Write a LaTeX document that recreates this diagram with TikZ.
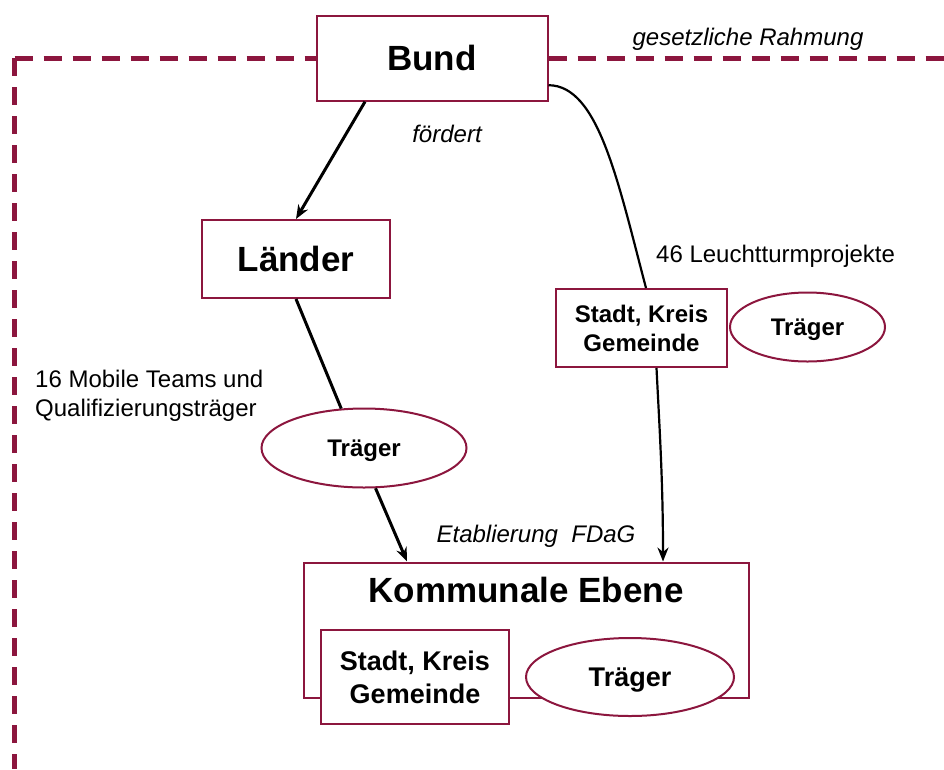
\documentclass[tikz,border=0pt]{standalone}
\usepackage{fontspec}
\setmainfont{Liberation Sans}
\usetikzlibrary{shapes.geometric,arrows.meta}

\definecolor{weinrot}{RGB}{140,22,62}

\tikzset{
  kasten/.style={draw=weinrot, line width=2pt, fill=white, inner sep=0pt,
    align=center, font=\bfseries\fontsize{27}{33}\selectfont},
  oval/.style={ellipse, draw=weinrot, line width=2pt, fill=white, inner sep=0pt,
    text depth=0pt, font=\bfseries\fontsize{27}{33}\selectfont},
  gross/.style={font=\bfseries\fontsize{35}{42}\selectfont},
  klein/.style={font=\bfseries\fontsize{24}{29}\selectfont},
  notiz/.style={inner sep=0pt, align=left, font=\fontsize{24}{29}\selectfont},
  kursiv/.style={inner sep=0pt, font=\itshape\fontsize{24}{29}\selectfont},
  linie/.style={line width=3pt},
  pfeil/.style={line width=3pt, -{Stealth[length=14pt,width=11pt]}},
  bogen/.style={line width=2.2pt},
  rahmen/.style={draw=weinrot, line width=5pt, dash pattern=on 18pt off 11pt},
}

\begin{document}
\begin{tikzpicture}[x=1pt,y=-1pt]

  % Bildrand
  \useasboundingbox (0,0) rectangle (944,769);

  % Ebenen
  \node[kasten, gross, minimum width=231pt, minimum height=85pt] (bund) at (432,58.2) {Bund};
  \node[kasten, gross, minimum width=188pt, minimum height=78pt] (laender) at (296,259) {Länder};
  \node[oval, klein, minimum width=205pt, minimum height=79pt] (traeger1) at (364,448) {Träger};

  % Leuchtturmprojekte
  \node[kasten, klein, minimum width=171pt, minimum height=78pt] (stadt2) at (641.5,328) {Stadt, Kreis\\Gemeinde};
  \node[oval, klein, minimum width=155pt, minimum height=69pt] (traeger2) at (807.5,327) {Träger};

  % Kommunale Ebene
  \node[kasten, minimum width=445pt, minimum height=135pt] (kommunal) at (526,630) {};
  \node[gross, inner sep=0pt, anchor=base] (kommunaltitel) at ([yshift=-41pt]kommunal.north) {Kommunale Ebene};
  \node[kasten, minimum width=188pt, minimum height=94pt] (stadt1) at (415,677) {Stadt, Kreis\\Gemeinde};
  \node[oval, minimum width=208pt, minimum height=78pt] (traeger3) at (630,677) {Träger};

  % gesetzliche Rahmung
  \coordinate (ecke) at (14.5,58.2);
  \coordinate (rechts) at (944,58.2);
  \coordinate (unten) at (14.5,769);
  \draw[rahmen] (ecke) -- (bund.west);
  \draw[rahmen] (ecke) -- (unten);
  \draw[rahmen] (bund.east) -- (rechts);

  % Beschriftungen
  \node[kursiv, anchor=base] (rahmung) at (748,45) {gesetzliche Rahmung};
  \node[kursiv, anchor=base] (foerdert) at (447,142) {fördert};
  \node[kursiv, anchor=base] (etablierung) at (536,542) {Etablierung~~FDaG};
  \node[notiz, anchor=base west] (leuchtturm) at (656,262) {46 Leuchtturmprojekte};
  \node[notiz, anchor=west] (teams) at (35,396) {16 Mobile Teams und\\Qualifizierungsträger};

  % Verbindungen
  \draw[pfeil] ([xshift=-67pt]bund.south) -- (laender.north);
  \draw[linie] (laender.south) -- (traeger1.120);
  \draw[pfeil] (traeger1.286) -- ([xshift=-119pt]kommunal.north);
  \draw[bogen] ([yshift=-27pt]bund.east) .. controls +(50,0) and +(-28,-106) .. ([xshift=4.5pt]stadt2.north);
  \draw[bogen, -{Stealth[length=14pt,width=11pt]}] ([xshift=15pt]stadt2.south) .. controls +(3,60) and +(0,-80) .. ([xshift=137pt]kommunal.north);

\end{tikzpicture}
\end{document}
